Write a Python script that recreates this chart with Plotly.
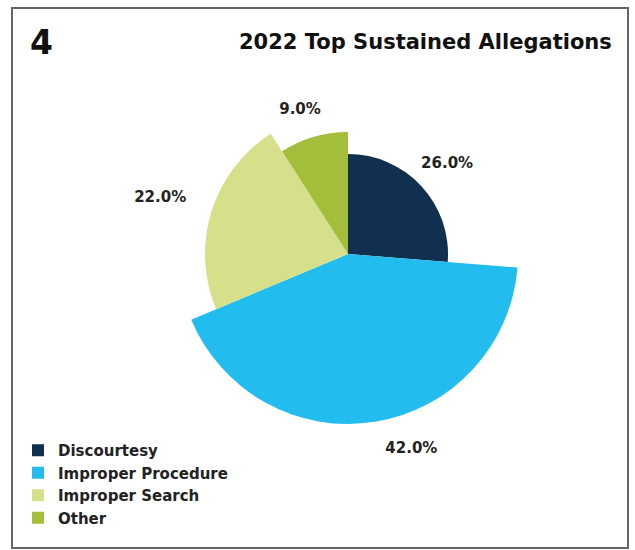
import plotly.graph_objects as go

# Sustained allegation shares (percent) and slice reach (outer radius, px)
categories = ["Discourtesy", "Improper Procedure", "Improper Search", "Other"]
shares = [26.0, 42.0, 22.0, 9.0]
reach = [100, 170, 143, 122]
colors = ["#11304f", "#22bdee", "#d6e08a", "#a2be3a"]

# where each percentage label sits (distance from centre px, angle deg)
label_reach = [134, 205, 196, 152]
label_angle = [47.7, 162.0, 286.6, 341.6]

W, H = 635, 550
cx, cy = 348, 254          # pie centre, px from top-left
R = 215                    # radial axis max in px
FONT = "DejaVu Sans"

total = sum(shares)
widths = [s / total * 360 for s in shares]
mids = []
acc = 0.0
for w in widths:
    mids.append(acc + w / 2)
    acc += w

fig = go.Figure()
for cat, s, r, w, m, c in zip(categories, shares, reach, widths, mids, colors):
    fig.add_trace(go.Barpolar(
        r=[r], theta=[m], width=[w], name=cat,
        marker=dict(color=c, line=dict(width=0)),
        hoverinfo="name",
    ))

fig.add_trace(go.Scatterpolar(
    r=label_reach, theta=label_angle, mode="text",
    text=[f"{s:.1f}%" for s in shares],
    textfont=dict(family=FONT, size=15, color="#222222", weight="bold"),
    cliponaxis=False, showlegend=False, hoverinfo="skip",
))

fig.update_layout(
    width=W, height=H,
    margin=dict(l=0, r=0, t=0, b=0),
    paper_bgcolor="white",
    polar=dict(
        domain=dict(x=[(cx - R) / W, (cx + R) / W],
                    y=[(H - cy - R) / H, (H - cy + R) / H]),
        bgcolor="rgba(0,0,0,0)",
        radialaxis=dict(range=[0, R], visible=False),
        angularaxis=dict(direction="clockwise", rotation=90, visible=False),
        bargap=0,
    ),
    showlegend=True,
    legend=dict(
        x=18 / W, y=1 - 434 / H, xanchor="left", yanchor="top",
        font=dict(family=FONT, size=15, color="#222222", weight="bold"),
        itemwidth=30, tracegroupgap=0, bgcolor="rgba(0,0,0,0)",
    ),
    shapes=[dict(type="rect", xref="paper", yref="paper",
                 x0=12 / W, x1=628 / W, y0=1 - 548 / H, y1=1 - 8 / H,
                 line=dict(color="#666666", width=2))],
    annotations=[
        dict(text="4", xref="paper", yref="paper", x=28 / W, y=1 - 43 / H,
             xanchor="left", yanchor="middle", showarrow=False,
             font=dict(family=FONT, size=33, color="#111111", weight="bold")),
        dict(text="2022 Top Sustained Allegations", xref="paper", yref="paper",
             x=614 / W, y=1 - 42 / H, xanchor="right", yanchor="middle",
             showarrow=False,
             font=dict(family=FONT, size=21, color="#111111", weight="bold")),
    ],
)

fig.write_html("out.html")
